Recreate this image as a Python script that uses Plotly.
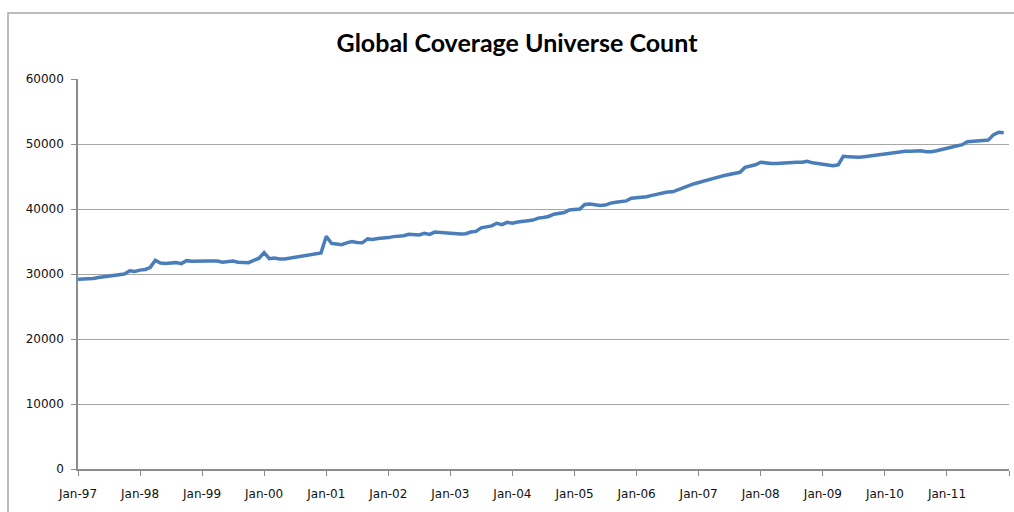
import plotly.graph_objects as go
import pandas as pd

title_text = "Global Coverage Universe Count"
start_month = "1997-01-01"

v1997 = [29200, 29200, 29300, 29300, 29450, 29550, 29650, 29750, 29800, 30000, 30500, 30400]
v1998 = [30600, 30700, 31000, 32100, 31700, 31600, 31700, 31750, 31600, 32050, 31950, 32000]
v1999 = [32000, 32000, 32000, 32000, 31800, 31900, 32000, 31800, 31750, 31750, 32100, 32400]
v2000 = [33300, 32350, 32450, 32300, 32300, 32450, 32600, 32750, 32900, 33050, 33100, 33250]
v2001 = [35800, 34700, 34600, 34500, 34800, 35000, 34850, 34800, 35400, 35300, 35450, 35500]
v2002 = [35600, 35750, 35800, 35900, 36100, 36000, 36000, 36250, 36100, 36450, 36400, 36350]
v2003 = [36300, 36150, 36150, 36200, 36450, 36550, 37100, 37250, 37400, 37800, 37600, 37950]
v2004 = [37800, 38000, 38050, 38200, 38300, 38600, 38700, 38850, 39200, 39300, 39450, 39850]
v2005 = [39900, 40000, 40700, 40750, 40650, 40550, 40600, 40900, 41050, 41150, 41250, 41650]
v2006 = [41700, 41750, 41900, 42100, 42300, 42450, 42600, 42650, 43000, 43300, 43550, 43850]
v2007 = [44100, 44300, 44500, 44800, 44950, 45150, 45300, 45450, 45650, 46400, 46600, 46800]
v2008 = [47200, 47050, 47000, 47000, 47050, 47200, 47200, 47200, 47200, 47350, 47100, 47000]
v2009 = [46950, 46800, 46650, 46800, 48100, 48050, 47950, 47950, 48050, 48150, 48300, 48350]
v2010 = [48450, 48600, 48700, 48850, 48900, 48900, 48900, 48950, 48800, 48800, 48950, 49200]
v2011 = [49350, 49550, 49750, 49900, 50350, 50450, 50500, 50550, 50600, 51400, 51800, 51750]

counts = (v1997 + v1998 + v1999 + v2000 + v2001 + v2002 + v2003 + v2004 +
          v2005 + v2006 + v2007 + v2008 + v2009 + v2010 + v2011)
months = pd.date_range(start_month, periods=len(counts), freq="MS")

y_ticks = [0, 10000, 20000, 30000, 40000, 50000, 60000]

fig = go.Figure()
fig.add_trace(go.Scatter(
    x=months, y=counts, mode="lines",
    line=dict(color="#4A7EBB", width=3.5),
    showlegend=False, hoverinfo="skip",
))

W, H = 1014, 512
ml, mr, mt, mb = 78, 5, 79, 43
pw, ph = W - ml - mr, H - mt - mb

fig.update_layout(
    width=W, height=H,
    margin=dict(l=ml, r=mr, t=mt, b=mb),
    paper_bgcolor="white", plot_bgcolor="white",
    title=dict(text="<b>" + title_text + "</b>", x=517 / W, xanchor="center",
               xref="container", y=1 - 43 / H, yanchor="middle",
               font=dict(family="Lato", size=25, color="#000000")),
    font=dict(family="DejaVu Sans", size=12, color="#111111"),
    shapes=[dict(type="rect", xref="paper", yref="paper",
                 x0=(8 - ml) / pw, x1=(1020 - ml) / pw,
                 y0=-0.3, y1=(H - mb - 13) / ph,
                 line=dict(color="#A6A6A6", width=1.5), layer="below")],
)
fig.update_xaxes(
    range=["1997-01-01", "2012-01-01"],
    tickmode="linear", tick0="1997-01-01", dtick="M12", tickformat="%b-%y",
    showgrid=False, showline=True, linecolor="#8C8C8C", linewidth=1.5,
    ticks="outside", ticklen=5, tickcolor="#8C8C8C", tickwidth=1,
    ticklabelstandoff=8,
    tickfont=dict(size=12, family="DejaVu Sans", color="#111111"),
)
fig.update_yaxes(
    range=[0, 60000], tickvals=y_ticks, ticktext=[str(v) for v in y_ticks],
    showgrid=True, gridcolor="#A6A6A6", gridwidth=1,
    showline=True, linecolor="#8C8C8C", linewidth=1.5,
    ticks="outside", ticklen=5, tickcolor="#8C8C8C", tickwidth=1,
    ticklabelstandoff=5,
    zeroline=False,
    tickfont=dict(size=12, family="DejaVu Sans", color="#111111"),
)

fig.write_html("out.html")
